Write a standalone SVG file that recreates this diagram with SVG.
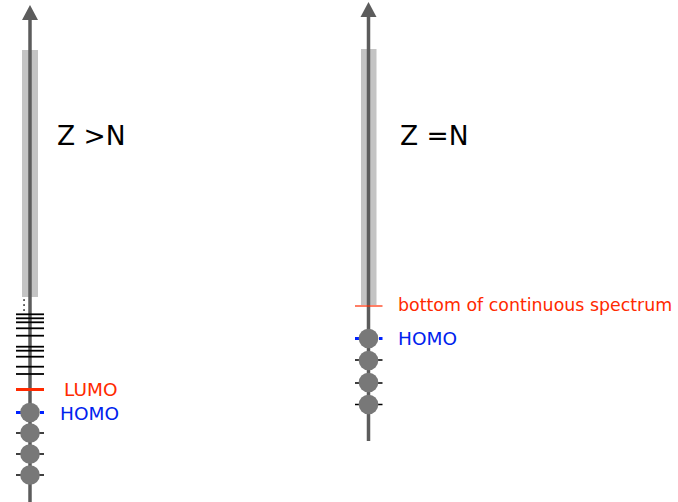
<svg xmlns="http://www.w3.org/2000/svg" width="678" height="502" viewBox="0 0 678 502">
<style>
.band{fill:#c4c4c4}
.axis{stroke:#5c5c5c;stroke-width:3.5;fill:none}
.head{fill:#5c5c5c}
.lvl{stroke:#000;stroke-width:1.8}
.tick{stroke:#000;stroke-width:1.5}
.e{fill:#787878}
.homo{stroke:#0022ff;stroke-width:3;stroke-dasharray:5,3}
.lumo{stroke:#ff2a00;stroke-width:3}
.bot{stroke:#ff2a00;stroke-width:1.2}
text{font-family:"DejaVu Sans",sans-serif}
.big{font-size:26.5px;fill:#000}
.lab{font-size:18.5px}
.small{font-size:17.4px}
.red{fill:#ff2a00}
.blue{fill:#0022ee}
</style>
<rect width="678" height="502" fill="#fff"/>
<g id="left-axis">
<rect class="band" x="22" y="50" width="16" height="247"/>
<line class="axis" x1="30" y1="18" x2="30" y2="502"/>
<polygon class="head" points="30,5 38,20 22,20"/>
<g fill="#000">
<rect x="23.3" y="299.3" width="1.5" height="1.5"/>
<rect x="23.3" y="304.3" width="1.5" height="1.5"/>
<rect x="23.3" y="309.3" width="1.5" height="1.5"/>
</g>
</g>
<g id="left-levels">
<line class="lvl" x1="16" y1="314.3" x2="44" y2="314.3"/>
<line class="lvl" x1="16" y1="318.3" x2="44" y2="318.3"/>
<line class="lvl" x1="16" y1="322.3" x2="44" y2="322.3"/>
<line class="lvl" x1="16" y1="328.3" x2="44" y2="328.3"/>
<line class="lvl" x1="16" y1="335.7" x2="44" y2="335.7"/>
<line class="lvl" x1="16" y1="346.7" x2="44" y2="346.7"/>
<line class="lvl" x1="16" y1="350.7" x2="44" y2="350.7"/>
<line class="lvl" x1="16" y1="356.7" x2="44" y2="356.7"/>
<line class="lvl" x1="16" y1="366.7" x2="44" y2="366.7"/>
<line class="lvl" x1="16" y1="374" x2="44" y2="374"/>
</g>
<g id="left-lumo">
<line class="lumo" x1="16" y1="389.5" x2="44" y2="389.5"/>
<text class="lab red" x="64" y="396">LUMO</text>
</g>
<g id="left-homo">
<line class="tick" x1="16" y1="433" x2="44" y2="433"/>
<line class="tick" x1="16" y1="454" x2="44" y2="454"/>
<line class="tick" x1="16" y1="475" x2="44" y2="475"/>
<line class="homo" x1="16" y1="412.5" x2="44" y2="412.5"/>
<circle class="e" cx="30" cy="412.5" r="9.8"/>
<circle class="e" cx="30" cy="433" r="9.8"/>
<circle class="e" cx="30" cy="454" r="9.8"/>
<circle class="e" cx="30" cy="475" r="9.8"/>
<text class="lab blue" x="60" y="420">HOMO</text>
</g>
<g id="left-title">
<text class="big" x="57" y="145">Z &gt;N</text>
</g>
<g id="right-axis">
<rect class="band" x="361" y="49" width="15.5" height="256"/>
<line class="axis" x1="368.5" y1="15" x2="368.5" y2="441"/>
<polygon class="head" points="368.5,2 376.5,17 360.5,17"/>
</g>
<g id="right-bottom">
<line class="bot" x1="355" y1="306" x2="382.5" y2="306"/>
<text class="small red" x="398" y="311">bottom of continuous spectrum</text>
</g>
<g id="right-homo">
<line class="tick" x1="355" y1="360" x2="382.5" y2="360"/>
<line class="tick" x1="355" y1="383" x2="382.5" y2="383"/>
<line class="tick" x1="355" y1="404.5" x2="382.5" y2="404.5"/>
<line class="homo" x1="355" y1="338.5" x2="382.5" y2="338.5"/>
<circle class="e" cx="368.5" cy="338.5" r="9.8"/>
<circle class="e" cx="368.5" cy="360.5" r="9.8"/>
<circle class="e" cx="368.5" cy="382.5" r="9.8"/>
<circle class="e" cx="368.5" cy="404.5" r="9.8"/>
<text class="lab blue" x="398" y="345">HOMO</text>
</g>
<g id="right-title">
<text class="big" x="400" y="145">Z =N</text>
</g>
</svg>
